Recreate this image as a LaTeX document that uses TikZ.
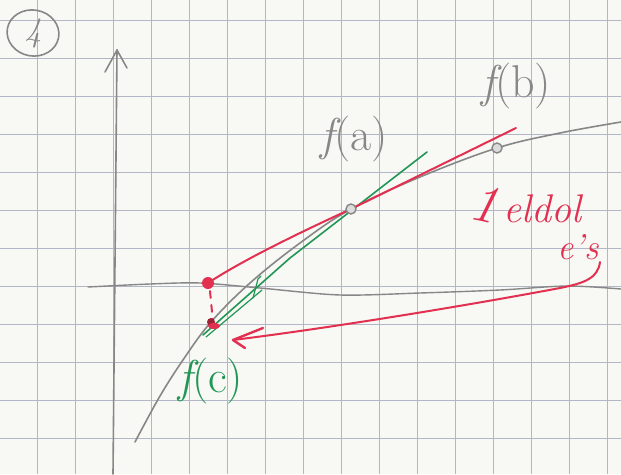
\documentclass[tikz,border=0pt]{standalone}
\usetikzlibrary{arrows.meta,shapes.geometric}
\definecolor{paper}{RGB}{248,248,245}
\definecolor{gridc}{RGB}{178,182,198}
\definecolor{pencil}{RGB}{135,135,135}
\definecolor{redpen}{RGB}{226,48,80}
\definecolor{greenpen}{RGB}{34,150,85}
\tikzset{
  gridline/.style={draw=gridc, line width=0.9pt},
  pencilline/.style={draw=pencil, line width=1.6pt, line cap=round, line join=round},
  redline/.style={draw=redpen, line width=2pt, line cap=round, line join=round},
  greenline/.style={draw=greenpen, line width=1.6pt, line cap=round},
  hand/.style={inner sep=0pt, anchor=base west, font=\fontsize{46}{46}\selectfont},
  ptcircle/.style={circle, draw=pencil, line width=1.4pt, fill=pencil!30, minimum size=10pt, inner sep=0pt},
}
\begin{document}
\begin{tikzpicture}[x=1pt,y=-1pt]
\useasboundingbox[fill=paper] (0,0) rectangle (621,474);
% grid
\foreach \gx in {-1,37,75,113,151,189,227,265,303,341,379,417,455,493,531,569,607}
  \draw[gridline] (\gx,0) -- (\gx,474);
\foreach \gy in {20,58,96,134,172,210,248,286,324,362,400,438}
  \draw[gridline] (0,\gy) -- (621,\gy);
% circled number
\node[pencilline, draw, ellipse, minimum width=52pt, minimum height=46pt, inner sep=0pt, rotate=-10] (num) at (33,33) {};
\node[text=pencil, font=\fontsize{34}{34}\selectfont\itshape, inner sep=0pt] (numtxt) at (num) {4};
% axes
\coordinate (ytop) at (117,50);
\coordinate (ybot) at (113,474);
\draw[pencilline] (ybot) -- (ytop);
\draw[pencilline] (105,72) -- (ytop) -- (127,68);
\draw[pencilline, line width=1.4pt] plot[smooth] coordinates {(88,287) (150,284) (200,283) (260,288) (340,295) (420,293) (500,290) (567,286) (621,289)};
% function curve
\coordinate (fa) at (351,209);
\coordinate (fb) at (497,148);
\coordinate (fc) at (211,322);
\draw[pencilline] plot[smooth, tension=0.6] coordinates {(135,442) (160,396) (185,357) (fc) (250,283) (300,243) (fa) (420,177) (fb) (560,133) (621,122)};
% green tangent
\coordinate (g1) at (203,335);
\coordinate (g2) at (427,152);
\draw[greenline] (g1) -- (290,258) -- (g2);
\draw[greenline, line width=1.2pt] (206,337) -- (262,290);
\draw[greenline, line width=1.2pt] (253,298) -- (258,279) -- (261,276);
% red secant
\coordinate (rd) at (208,283);
\coordinate (r2) at (516,128);
\draw[redline] (rd) .. controls (240,262) and (290,237) .. (fa) -- (r2);
\fill[redpen] (rd) circle (6pt);
\draw[redline, dash pattern=on 7pt off 7pt] (210,291) -- (213,322);
\fill[redpen!70!black] (fc) circle (4pt);
\fill[redpen] (214,326) ellipse (6pt and 3pt);
% points on curve
\node[ptcircle] (pa) at (fa) {};
\node[ptcircle] (pb) at (fb) {};
% labels
\node[hand, text=pencil] (la) at (320,150) {{\itshape f}(a)};
\node[hand, text=pencil] (lb) at (481,97) {{\itshape f}(b)};
\node[hand, text=greenpen] (lc) at (178,392) {{\itshape f}(c)};
% red annotation
\node[inner sep=0pt, text=redpen, font=\fontsize{54}{54}\selectfont\itshape, rotate=-12] (one) at (484,204) {1};
\node[inner sep=0pt, text=redpen, font=\fontsize{40}{40}\selectfont\itshape, anchor=base west] (t1) at (503,222) {eldol};
\node[inner sep=0pt, text=redpen, font=\fontsize{36}{36}\selectfont\itshape, anchor=base] (t2) at (578,259) {e's};
\coordinate (ast) at (600,262);
\coordinate (aend) at (233,340);
\draw[redline] (ast) .. controls (598,278) and (585,283) .. (560,288) .. controls (470,305) and (330,328) .. (aend);
\draw[redline, line width=2.4pt] (263,328) -- (aend) -- (245,348);
\end{tikzpicture}
\end{document}
